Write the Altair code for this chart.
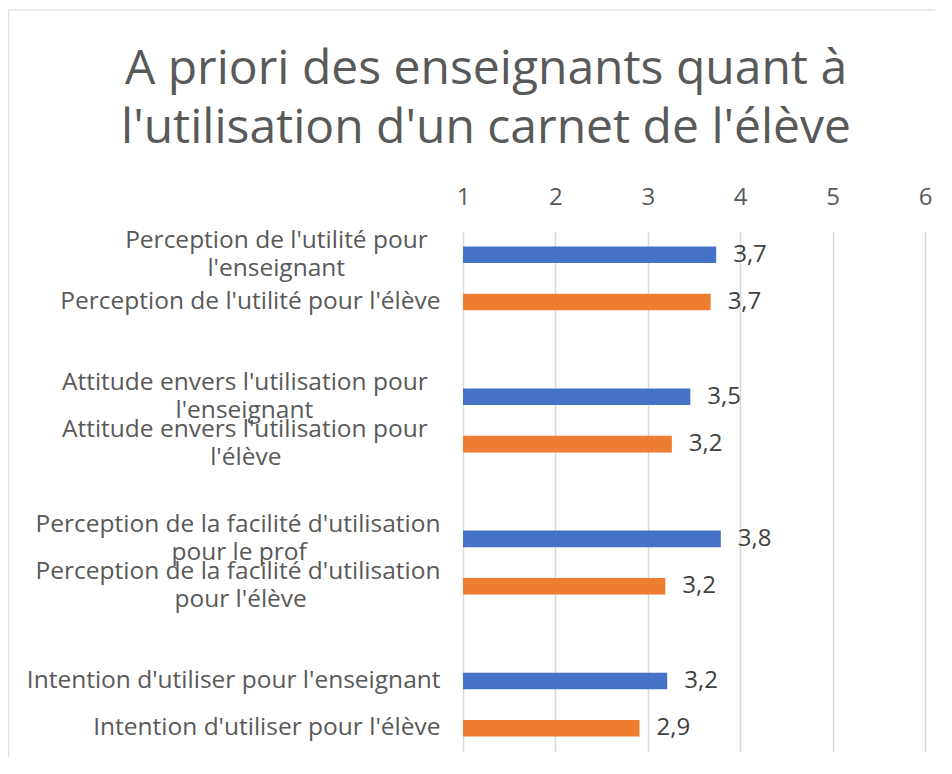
import altair as alt
import pandas as pd

NB = "\u00a0"
END = "\u200d"  # keeps the trailing no-break spaces from being trimmed

# Categories (line breaks marked with "|"; padding keeps the wrapped lines centred as in the reference)
categories = [
    "Perception de l'utilité pour" + NB * 2 + END + "|l'enseignant" + NB * 15 + END,
    "Perception de l'utilité pour l'élève",
    "Attitude envers l'utilisation pour" + NB * 2 + END + "|l'enseignant" + NB * 20 + END,
    "Attitude envers l'utilisation pour" + NB * 2 + END + "|l'élève" + NB * 25 + END,
    "Perception de la facilité d'utilisation|pour le prof" + NB * 21 + END,
    "Perception de la facilité d'utilisation|pour l'élève" + NB * 21 + END,
    "Intention d'utiliser pour l'enseignant",
    "Intention d'utiliser pour l'élève",
]
values = [3.74, 3.68, 3.46, 3.26, 3.79, 3.19, 3.21, 2.91]
value_labels = ["3,7", "3,7", "3,5", "3,2", "3,8", "3,2", "3,2", "2,9"]
series = ["enseignant", "élève"] * 4
series_domain = ["enseignant", "élève"]
series_colors = ["#4472C4", "#ED7D31"]
x_ticks = [1, 2, 3, 4, 5, 6]
title_lines = ["A priori des enseignants quant à", "l'utilisation d'un carnet de l'élève"]

df = pd.DataFrame({
    "critere": categories,
    "valeur": values,
    "etiquette": value_labels,
    "public": series,
})

# empty slots between the groups
y_domain = [categories[0], categories[1], " ",
            categories[2], categories[3], "  ",
            categories[4], categories[5], "   ",
            categories[6], categories[7]]

FONT = "Open Sans"
y_scale = alt.Scale(domain=y_domain, paddingInner=0.65, paddingOuter=0.325)

y_enc = alt.Y(
    "critere:N",
    scale=y_scale,
    axis=alt.Axis(
        title=None,
        labelExpr="split(datum.label, '|')",
        labelFont=FONT,
        labelFontSize=24.5,
        labelColor="#595959",
        labelPadding=23,
        labelLimit=0,
        labelLineHeight=28,
        labelOverlap=False,
        labelOffset={"condition": {"test": "indexof(datum.value, '|') >= 0", "value": -14}, "value": 0},
        ticks=False,
        domain=False,
        grid=False,
    ),
)

x_enc = alt.X(
    "valeur:Q",
    scale=alt.Scale(domain=[1, 6], zero=False, nice=False),
    axis=alt.Axis(
        orient="top",
        values=x_ticks,
        format="d",
        title=None,
        labelFont=FONT,
        labelFontSize=24,
        labelColor="#595959",
        labelPadding=22,
        labelFlush=False,
        ticks=False,
        tickSize=0,
        domain=False,
        grid=True,
        gridColor="#d9d9d9",
        gridWidth=1.5,
    ),
)

bars = alt.Chart(df).mark_bar().encode(
    y=y_enc,
    x=x_enc,
    x2=alt.datum(1),
    color=alt.Color(
        "public:N",
        scale=alt.Scale(domain=series_domain, range=series_colors),
        legend=None,
    ),
)

text = alt.Chart(df).mark_text(
    align="left", baseline="middle", dx=17, font=FONT, fontSize=24, color="#404040"
).encode(
    y=alt.Y("critere:N", scale=y_scale),
    x=alt.X("valeur:Q"),
    text="etiquette:N",
)

# faint chart-area frame (left and top edges), as in the reference
frame_df = pd.DataFrame({"cadre": [0]})
frame_left = alt.Chart(frame_df).mark_rule(color="#e3e3e3", strokeWidth=1.5).encode(
    x=alt.value(-454.5), y=alt.value(-221), y2=alt.value(540)
)
frame_top = alt.Chart(frame_df).mark_rule(color="#e3e3e3", strokeWidth=1.5).encode(
    x=alt.value(-455), x2=alt.value(472), y=alt.value(-221)
)

chart = alt.layer(frame_left, frame_top, bars, text).properties(
    width=462,
    height=521,
    title=alt.Title(
        text=title_lines,
        font=FONT,
        fontSize=48,
        fontWeight="normal",
        color="#595959",
        anchor="middle",
        dx=-208,
        lineHeight=59,
        offset=-144,
    ),
    autosize=alt.AutoSizeParams(type="none"),
    padding={"left": 455, "top": 223, "right": 10, "bottom": 5},
).configure_view(stroke=None)

chart.save("out.html", embed_options={"renderer": "svg", "actions": False})
